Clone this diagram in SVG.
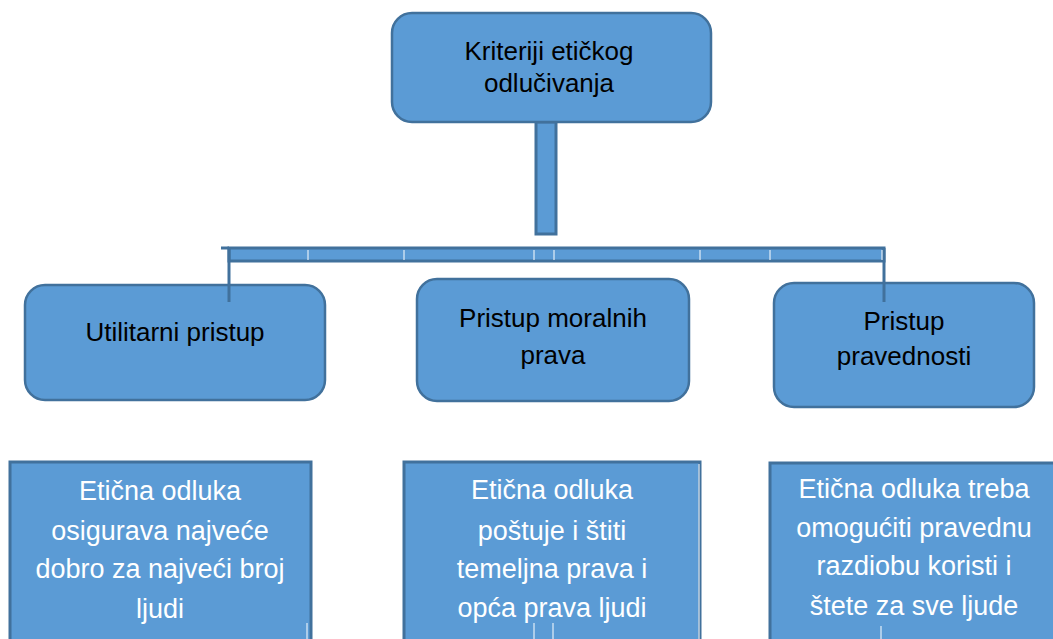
<svg xmlns="http://www.w3.org/2000/svg" width="1053" height="639" viewBox="0 0 1053 639">
<style>
.rb{fill:#5B9BD5;stroke:#41719C;stroke-width:2.5}
.sq{fill:#5B9BD5;stroke:#41719C;stroke-width:3}
.t{font-family:"Liberation Sans",Arial,sans-serif;font-size:26px;fill:#000;text-anchor:middle}
.w{font-family:"Liberation Sans",Arial,sans-serif;font-size:27px;fill:#fff;text-anchor:middle}
.ln{stroke:#41719C;stroke-width:3;fill:none}
.wl{stroke:#fff;stroke-width:1;fill:none}
</style>
<rect width="1053" height="639" fill="#fff"/>
<g id="connectors">
<rect x="536" y="122" width="20" height="112" class="sq" stroke-width="2.5"/>
<rect x="229" y="248" width="655" height="13" class="sq"/>
<line x1="229" y1="248" x2="229" y2="302" class="ln"/>
<line x1="884" y1="248" x2="884" y2="302" class="ln"/>
<line x1="221" y1="248" x2="229" y2="248" class="ln" stroke-width="2"/>
<g class="wl">
<line x1="308" y1="250" x2="308" y2="260"/>
<line x1="404" y1="250" x2="404" y2="260"/>
<line x1="534" y1="250" x2="534" y2="260"/>
<line x1="554" y1="250" x2="554" y2="260"/>
<line x1="700" y1="250" x2="700" y2="260"/>
<line x1="770" y1="250" x2="770" y2="260"/>
<line x1="882" y1="250" x2="882" y2="260"/>
</g>
</g>
<g id="root">
<rect x="392" y="13" width="319" height="109" rx="20" class="rb"/>
<text class="t" x="549" y="60">Kriteriji etičkog</text>
<text class="t" x="549" y="92">odlučivanja</text>
</g>
<g id="utilitarni">
<rect x="25" y="285" width="300" height="115" rx="20" class="rb"/>
<line x1="229" y1="285" x2="229" y2="302" class="ln"/>
<text class="t" x="175" y="341">Utilitarni pristup</text>
</g>
<g id="moralna">
<rect x="417" y="279" width="272" height="122" rx="20" class="rb"/>
<text class="t" x="553" y="327">Pristup moralnih</text>
<text class="t" x="553" y="364">prava</text>
</g>
<g id="pravednost">
<rect x="774" y="283" width="260" height="124" rx="20" class="rb"/>
<line x1="884" y1="283" x2="884" y2="302" class="ln"/>
<text class="t" x="904" y="330">Pristup</text>
<text class="t" x="904" y="365">pravednosti</text>
</g>
<g id="opis-utilitarni">
<rect x="10" y="462" width="301" height="182" class="sq"/>
<line x1="307" y1="623" x2="307" y2="639" class="wl"/>
<text class="w" x="160" y="500">Etična odluka</text>
<text class="w" x="160" y="540">osigurava najveće</text>
<text class="w" x="160" y="578">dobro za najveći broj</text>
<text class="w" x="160" y="618">ljudi</text>
</g>
<g id="opis-moralna">
<rect x="404" y="462" width="296" height="182" class="sq"/>
<line x1="699" y1="464" x2="699" y2="639" class="wl"/>
<line x1="534" y1="623" x2="534" y2="639" class="wl"/>
<line x1="553" y1="623" x2="553" y2="639" class="wl"/>
<text class="w" x="552" y="499">Etična odluka</text>
<text class="w" x="552" y="540">poštuje i štiti</text>
<text class="w" x="552" y="578">temeljna prava i</text>
<text class="w" x="552" y="617">opća prava ljudi</text>
</g>
<g id="opis-pravednost">
<rect x="770" y="463" width="290" height="182" class="sq"/>
<line x1="881" y1="626" x2="881" y2="639" class="wl"/>
<text class="w" x="914" y="498">Etična odluka treba</text>
<text class="w" x="914" y="537">omogućiti pravednu</text>
<text class="w" x="914" y="575">razdiobu koristi i</text>
<text class="w" x="914" y="615">štete za sve ljude</text>
</g>
</svg>
